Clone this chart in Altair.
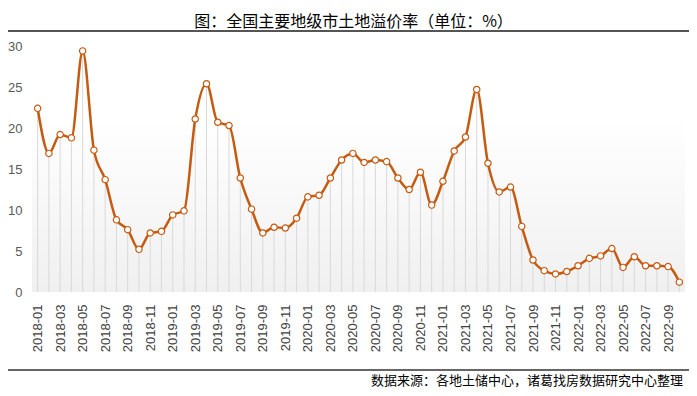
import altair as alt
import pandas as pd

months = [f"{y}-{m:02d}" for y in range(2018, 2023) for m in range(1, 13)][:58]
rate = [22.4, 16.9, 19.2, 18.8, 29.4, 17.3, 13.7, 8.8, 7.6, 5.2, 7.2, 7.4,
        9.4, 9.9, 21.1, 25.4, 20.7, 20.3, 13.9, 10.1, 7.2, 7.9, 7.8, 9.0,
        11.6, 11.8, 13.9, 16.1, 16.9, 15.8, 16.1, 15.9, 13.9, 12.5, 14.6, 10.6,
        13.5, 17.2, 18.9, 24.7, 15.7, 12.2, 12.8, 8.0, 3.9, 2.6, 2.2, 2.5,
        3.2, 4.1, 4.4, 5.3, 3.0, 4.3, 3.2, 3.2, 3.1, 1.2]
tick_months = months[::2]
y_ticks = [0, 5, 10, 15, 20, 25, 30]

title_text = "图：全国主要地级市土地溢价率（单位：%）"
source_text = "数据来源：各地土储中心，诸葛找房数据研究中心整理"

df = pd.DataFrame({"month": months, "rate": rate})
one = pd.DataFrame({"a": [0]})

W, H = 653, 246
LINE = "#C55A11"

x_enc = alt.X("month:N", sort=months,
              scale=alt.Scale(type="point", padding=0.5),
              axis=alt.Axis(values=tick_months, labelAngle=-90, title=None,
                            ticks=False, domain=False, labelPadding=12,
                            labelFontSize=13, labelColor="#404040",
                            labelFont="Liberation Sans", labelBaseline="middle",
                            labelAlign="right"))
y_enc = alt.Y("rate:Q", scale=alt.Scale(domain=[0, 30], nice=False),
              axis=alt.Axis(values=y_ticks, title=None, ticks=False, domain=False,
                            grid=False, labelPadding=10, labelFontSize=13,
                            labelColor="#595959", labelFont="Liberation Sans"))

bg = alt.Chart(one).mark_rect(
    color=alt.Gradient(gradient="linear", x1=0, x2=0, y1=0, y2=1,
                       stops=[alt.GradientStop(offset=0, color="#ffffff"),
                              alt.GradientStop(offset=0.3, color="#ffffff"),
                              alt.GradientStop(offset=1, color="#f0f0f0")])
).encode(x=alt.value(0), x2=alt.value(W), y=alt.value(0), y2=alt.value(H))

drops = alt.Chart(df).mark_rule(color="#d9d9d9", strokeWidth=1).encode(
    x=x_enc, y=y_enc, y2=alt.Y2(datum=0))

line = alt.Chart(df).mark_line(color=LINE, strokeWidth=2.5, interpolate="monotone").encode(
    x=x_enc, y=y_enc)

pts = alt.Chart(df).mark_point(filled=True, fill="white", stroke=LINE, strokeWidth=1.2,
                               size=40, opacity=1).encode(x=x_enc, y=y_enc)

top_rule = alt.Chart(one).mark_rule(color="#555555", strokeWidth=2).encode(
    x=alt.value(-24), x2=alt.value(W + 4), y=alt.value(-15))
bot_rule = alt.Chart(one).mark_rule(color="#666666", strokeWidth=2).encode(
    x=alt.value(-24), x2=alt.value(W + 4), y=alt.value(324))
source = alt.Chart(one).mark_text(text=source_text, align="right", baseline="middle",
                                  fontSize=13, font="Noto Sans CJK SC", color="#000000").encode(
    x=alt.value(651), y=alt.value(335))

chart = alt.layer(bg, drops, line, pts, top_rule, bot_rule, source).properties(
    width=W, height=H,
    title=alt.Title(title_text, fontSize=16, font="Noto Sans CJK SC", fontWeight="normal",
                    color="#000000", anchor="middle", frame="group", offset=0, dx=-5),
    autosize=alt.AutoSizeParams(type="none"),
    padding={"left": 24, "top": 38, "right": 4, "bottom": 96},
).configure_view(stroke=None)

chart.save("out.html", embed_options={"renderer": "svg", "actions": False})
